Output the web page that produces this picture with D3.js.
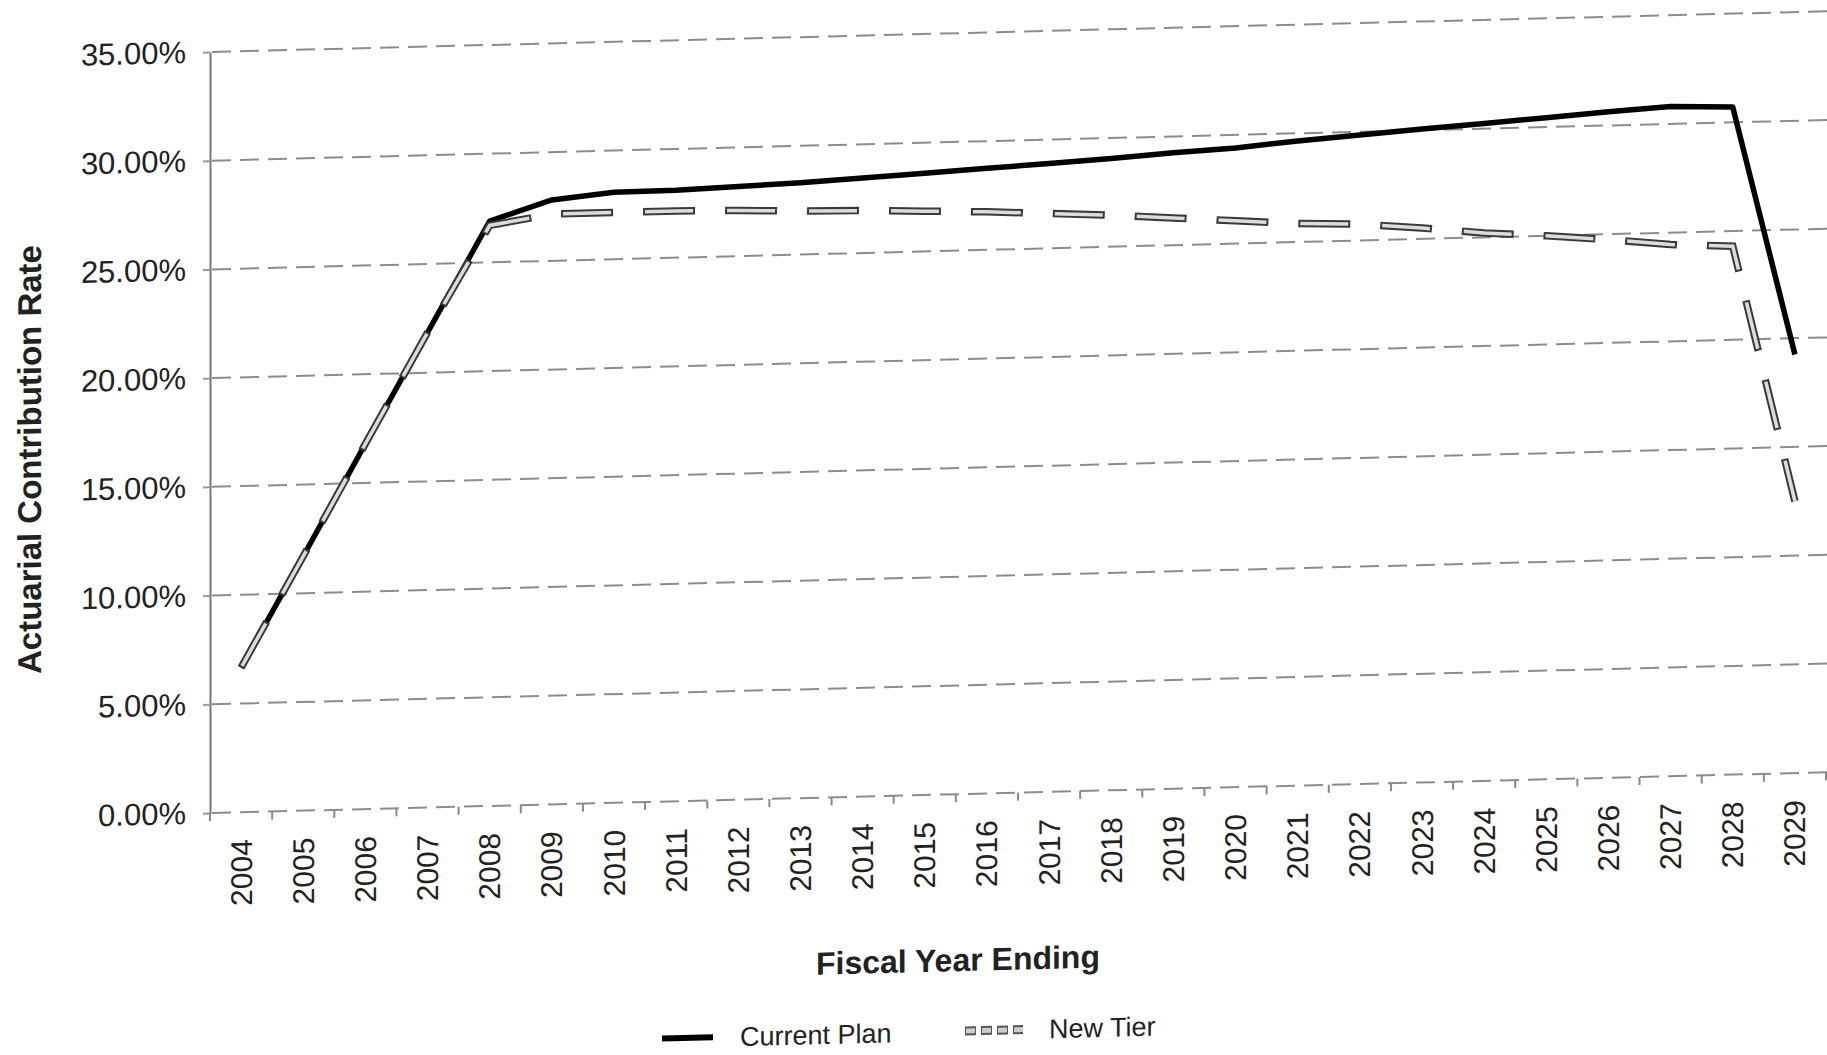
<!DOCTYPE html>
<html><head><meta charset="utf-8">
<script src="https://cdn.jsdelivr.net/npm/d3@7"></script>
<style>html,body{margin:0;padding:0;background:#fff;} svg{display:block;}</style>
</head><body>
<svg id="chart" width="1827" height="1055"></svg>
<script>
// ---- data ----
const years = ["2004","2005","2006","2007","2008","2009","2010","2011","2012","2013","2014","2015","2016",
               "2017","2018","2019","2020","2021","2022","2023","2024","2025","2026","2027","2028","2029"];
const currentPlan = [6.65, 11.7, 16.8, 21.85, 26.9, 27.8, 28.08, 28.1, 28.2, 28.3, 28.45, 28.6, 28.75,
                     28.9, 29.06, 29.25, 29.4, 29.65, 29.85, 30.05, 30.24, 30.43, 30.63, 30.8, 30.7, 19.25];
const newTier     = [6.65, 11.7, 16.8, 21.85, 26.7, 27.15, 27.15, 27.15, 27.1, 27.0, 26.95, 26.85, 26.75,
                     26.6, 26.45, 26.25, 26.05, 25.85, 25.75, 25.5, 25.2, 25.0, 24.75, 24.45, 24.3, 12.5];
const yTicks = [0, 5, 10, 15, 20, 25, 30, 35];
const seriesNames = ["Current Plan", "New Tier"];
const xTitle = "Fiscal Year Ending";
const yTitle = "Actuarial Contribution Rate";

// ---- layout ----
const W = 1827, H = 1055;
const plotLeft = 210, plotRight = 1826, plotTop = 52, plotBottom = 813;
const skew = 0.0252; // the scanned page is slightly sheared
const font = "'Liberation Sans', Arial, Helvetica, sans-serif";
const ink = "#222";

const svg = d3.select("#chart");
svg.append("rect").attr("width", W).attr("height", H).attr("fill", "#fff");
const g = svg.append("g")
  .attr("transform", `matrix(1,${-skew},0,1,0,${skew * plotLeft})`)
  .style("font-family", font);

const x = d3.scaleBand().domain(years).range([plotLeft, plotRight]);
const y = d3.scaleLinear().domain([0, 35]).range([plotBottom, plotTop]);
const cx = d => x(d) + x.bandwidth() / 2;

// gridlines (dashed)
g.append("g").selectAll("line").data(yTicks).join("line")
  .attr("x1", plotLeft + 2).attr("x2", W + 60)
  .attr("y1", d => y(d)).attr("y2", d => y(d))
  .attr("stroke", "#8c8c8c").attr("stroke-width", 2)
  .attr("stroke-dasharray", "19,9");

// y axis
const yAxis = g.append("g").attr("transform", `translate(${plotLeft},0)`)
  .call(d3.axisLeft(y).tickValues(yTicks).tickFormat(d => d.toFixed(2) + "%")
        .tickSize(7).tickSizeOuter(0).tickPadding(17));
yAxis.select(".domain").attr("stroke", "#777").attr("stroke-width", 2);
yAxis.selectAll(".tick line").attr("stroke", "#999").attr("stroke-width", 2);
yAxis.selectAll(".tick text").attr("fill", ink).style("font-size", "31px").style("font-family", font);

// x axis ticks at category boundaries
const boundaries = years.map(d => x(d)).concat([x(years[years.length - 1]) + x.bandwidth()]);
g.append("g").selectAll("line").data(boundaries).join("line")
  .attr("x1", d => d).attr("x2", d => d)
  .attr("y1", plotBottom).attr("y2", plotBottom + 8)
  .attr("stroke", "#888").attr("stroke-width", 2);

// x labels (vertical)
g.append("g").selectAll("text").data(years).join("text")
  .attr("transform", d => `translate(${cx(d)},${plotBottom + 27}) rotate(-90)`)
  .attr("text-anchor", "end").attr("dy", "0.35em")
  .attr("fill", ink).style("font-size", "30px")
  .text(d => d);

// lines
const line = d3.line().x((d, i) => cx(years[i])).y(d => y(d));

g.append("path").datum(currentPlan).attr("d", line)
  .attr("fill", "none").attr("stroke", "#000").attr("stroke-width", 5.5)
  .attr("stroke-linejoin", "round");

g.append("path").datum(newTier).attr("d", line)
  .attr("fill", "none").attr("stroke", "#3a3a3a").attr("stroke-width", 7.5)
  .attr("stroke-dasharray", "52,30");
g.append("path").datum(newTier).attr("d", line)
  .attr("fill", "none").attr("stroke", "#dcdcdc").attr("stroke-width", 3.5)
  .attr("stroke-dasharray", "48,34").attr("stroke-dashoffset", -2);

// axis titles
g.append("text")
  .attr("x", (plotLeft + plotRight) / 2 - 60).attr("y", 990)
  .attr("text-anchor", "middle").attr("fill", ink)
  .style("font-size", "32px").style("font-weight", "bold")
  .text(xTitle);

g.append("text")
  .attr("transform", `translate(29,455) rotate(-90)`)
  .attr("text-anchor", "middle").attr("dy", "0.35em").attr("fill", ink)
  .style("font-size", "33px").style("font-weight", "bold")
  .text(yTitle);

// legend
const ly = 1050;
const leg = g.append("g");
leg.append("line").attr("x1", 662).attr("x2", 713).attr("y1", ly).attr("y2", ly)
  .attr("stroke", "#000").attr("stroke-width", 6);
leg.append("text").attr("x", 740).attr("y", ly).attr("dy", "0.35em")
  .attr("fill", ink).style("font-size", "27px").text(seriesNames[0]);
leg.append("line").attr("x1", 965).attr("x2", 1023).attr("y1", ly).attr("y2", ly)
  .attr("stroke", "#555").attr("stroke-width", 9).attr("stroke-dasharray", "11,5");
leg.append("line").attr("x1", 966).attr("x2", 1023).attr("y1", ly).attr("y2", ly)
  .attr("stroke", "#ccc").attr("stroke-width", 5).attr("stroke-dasharray", "9,7");
leg.append("text").attr("x", 1049).attr("y", ly).attr("dy", "0.35em")
  .attr("fill", ink).style("font-size", "27px").text(seriesNames[1]);
</script>
</body></html>
